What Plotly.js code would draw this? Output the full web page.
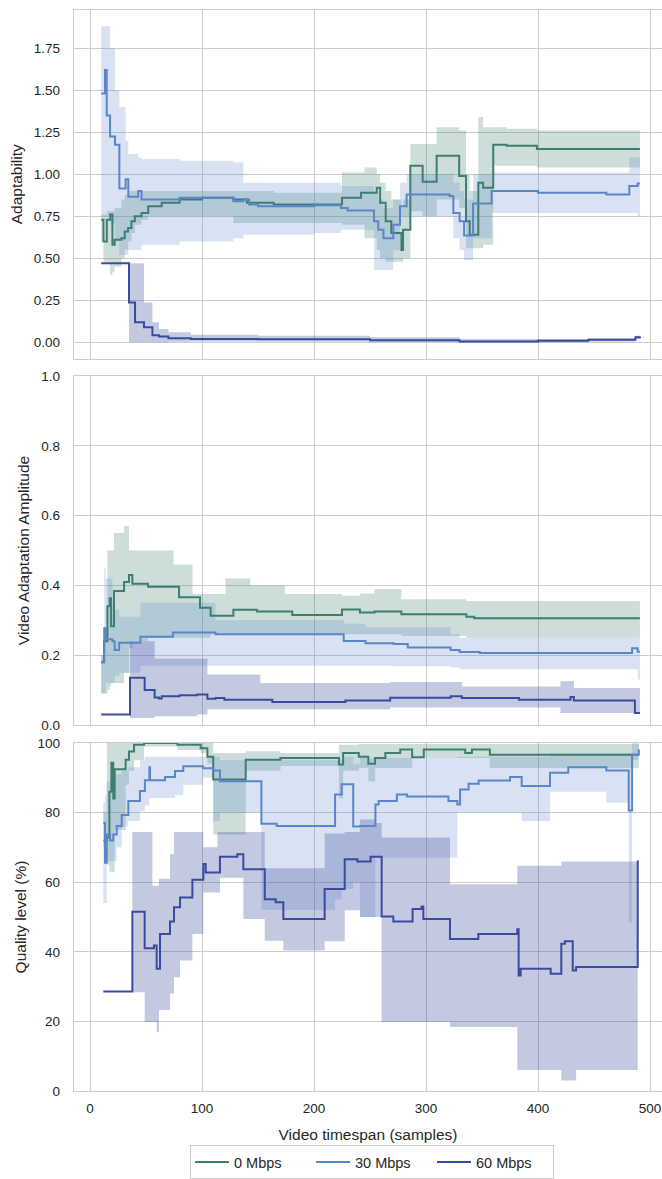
<!DOCTYPE html>
<html>
<head>
<meta charset="utf-8">
<script src="https://cdn.plot.ly/plotly-3.0.1.min.js"></script>
<style>html,body{margin:0;padding:0;background:#fff;overflow:hidden}#chart{width:662px;height:1179px}</style>
</head>
<body>
<div id="chart"></div>
<script>
// ---------- labels ----------
const seriesNames = ["0 Mbps", "30 Mbps", "60 Mbps"];
const panelTitles = ["Adaptability", "Video Adaptation Amplitude", "Quality level (%)"];
const xTitle = "Video timespan (samples)";
const xTickVals = [0, 100, 200, 300, 400, 500];

// ---------- Panel 1: Adaptability ----------
const adapt0_x    = [10,12,15,18,20,22,28,31,34,37,40,46,52,64,80,100,128,140,164,225,242,245,256,259,264,269,278,279.5,286,297,309.5,329.6,335.7,339,346.7,351,360,372,399,491];
const adapt0_mean = [0.73,0.60,0.73,0.76,0.58,0.61,0.62,0.66,0.68,0.72,0.75,0.77,0.81,0.83,0.85,0.86,0.85,0.83,0.82,0.86,0.89,0.89,0.92,0.83,0.72,0.65,0.55,0.67,1.05,0.955,1.11,0.99,0.72,0.64,0.95,0.92,1.176,1.17,1.15,1.15];
const adapt0_lo   = [0.60,0.48,0.48,0.40,0.42,0.45,0.50,0.55,0.60,0.65,0.70,0.73,0.75,0.75,0.75,0.75,0.71,0.71,0.71,0.70,0.70,0.62,0.55,0.50,0.48,0.48,0.48,0.50,0.78,0.75,0.85,0.80,0.56,0.56,0.56,0.58,1.05,1.05,1.04,1.04];
const adapt0_hi   = [0.76,0.76,0.78,0.78,0.78,0.80,0.85,0.88,0.90,0.90,0.90,0.90,0.90,0.90,0.90,0.90,0.90,0.90,0.89,1.01,1.01,1.04,1.00,0.95,0.90,0.85,0.80,0.85,1.18,1.18,1.28,1.26,1.00,0.90,1.34,1.28,1.28,1.27,1.26,1.26];

const adapt30_x    = [10,13.4,14.9,17.9,22.3,26.2,31.8,34.2,43,46,60,80,128,137,142,150,200,224,230,253.6,257.4,262,270.8,276.8,282.7,321,324.4,330,334,342,358.6,400,461,481.5,489,491];
const adapt30_mean = [1.48,1.62,1.35,1.225,1.176,0.915,0.97,0.866,0.90,0.85,0.85,0.86,0.84,0.85,0.82,0.81,0.815,0.80,0.785,0.72,0.67,0.62,0.70,0.81,0.88,0.87,0.77,0.72,0.635,0.826,0.90,0.89,0.88,0.93,0.945,0.945];
const adapt30_lo   = [0.75,0.75,0.75,0.70,0.60,0.52,0.52,0.55,0.55,0.58,0.58,0.60,0.62,0.64,0.64,0.64,0.65,0.67,0.67,0.43,0.43,0.43,0.55,0.75,0.75,0.75,0.62,0.55,0.49,0.62,0.77,0.77,0.77,0.77,0.75,0.75];
const adapt30_hi   = [1.88,1.88,1.88,1.75,1.50,1.40,1.20,1.12,1.10,1.09,1.09,1.08,1.07,0.95,0.95,0.95,0.95,0.93,0.93,0.90,0.85,0.80,0.85,0.95,1.00,1.00,0.95,0.90,0.85,1.00,1.01,1.01,1.01,1.10,1.10,1.10];

const adapt60_x    = [10,34.8,40.2,48.2,55.7,61.6,70,90,150,250,330,400,445,487,491];
const adapt60_mean = [0.47,0.237,0.12,0.09,0.043,0.035,0.025,0.02,0.018,0.012,0.005,0.01,0.015,0.03,0.035];
const adapt60_lo   = [0.47,0.0,0.0,0.0,0.0,0.0,0.003,0.005,0.005,0.002,0.0,0.0,0.005,0.02,0.03];
const adapt60_hi   = [0.47,0.47,0.47,0.237,0.12,0.08,0.06,0.045,0.04,0.03,0.02,0.02,0.025,0.04,0.04];

// ---------- Panel 2: Video Adaptation Amplitude ----------
const amp0_x    = [10,12.5,15.5,17.6,18.8,21.4,30.4,34.8,37.8,51.8,74.6,79.5,91.5,98.2,107.7,121,128,143,149,174,180.6,225,241,254,278,336,343,491];
const amp0_mean = [0.18,0.24,0.34,0.363,0.283,0.384,0.41,0.43,0.405,0.396,0.396,0.366,0.366,0.336,0.313,0.313,0.33,0.33,0.325,0.325,0.315,0.331,0.322,0.325,0.317,0.31,0.306,0.306];
const amp0_lo   = [0.09,0.09,0.10,0.11,0.12,0.12,0.15,0.22,0.24,0.25,0.25,0.25,0.25,0.25,0.26,0.26,0.26,0.26,0.26,0.26,0.26,0.26,0.26,0.26,0.255,0.25,0.25,0.25];
const amp0_hi   = [0.20,0.28,0.50,0.50,0.50,0.55,0.57,0.50,0.50,0.50,0.46,0.46,0.375,0.375,0.375,0.42,0.42,0.40,0.40,0.375,0.375,0.37,0.377,0.39,0.36,0.355,0.355,0.355];

const amp30_x    = [10,12.7,14,20,22,26,45,58,74,112,226.5,246,271,283.7,322,330,348,482,484,489,491];
const amp30_mean = [0.18,0.277,0.246,0.24,0.215,0.236,0.253,0.253,0.265,0.26,0.241,0.234,0.232,0.222,0.215,0.209,0.206,0.206,0.22,0.21,0.21];
const amp30_lo   = [0.09,0.09,0.12,0.12,0.14,0.15,0.17,0.17,0.17,0.17,0.17,0.17,0.168,0.168,0.165,0.16,0.16,0.16,0.16,0.13,0.13];
const amp30_hi   = [0.20,0.45,0.42,0.35,0.33,0.31,0.35,0.35,0.35,0.30,0.29,0.28,0.28,0.28,0.26,0.25,0.25,0.25,0.25,0.25,0.25];

const amp60_x    = [10,35.7,48.8,57.7,61.6,64,80,95.8,104.8,112,120,152,162.8,228,268,322,332,383,420,429,432,486.5,491];
const amp60_mean = [0.03,0.135,0.10,0.079,0.076,0.082,0.085,0.087,0.075,0.077,0.072,0.072,0.066,0.07,0.078,0.082,0.077,0.072,0.072,0.08,0.07,0.034,0.034];
const amp60_lo   = [0.03,0.02,0.02,0.025,0.025,0.025,0.025,0.03,0.045,0.045,0.045,0.045,0.045,0.045,0.05,0.05,0.05,0.05,0.034,0.034,0.034,0.034,0.034];
const amp60_hi   = [0.03,0.24,0.24,0.19,0.19,0.19,0.19,0.19,0.145,0.145,0.145,0.12,0.12,0.12,0.123,0.123,0.11,0.11,0.125,0.125,0.106,0.106,0.034];

// ---------- Panel 3: Quality level (%) ----------
const qual0_x    = [12,15,17.3,19.1,20.8,22,31.8,34.8,39.3,48.2,78,98.8,104.8,110,137.5,139,170,222.3,226,240,248.5,254.5,263.7,277,287.6,298,335,341,357,490];
const qual0_mean = [72,72.8,86,94.3,84,92.4,95.2,97.5,99.5,100,99.5,98.5,96,89.5,89.5,95.2,95.7,93.8,97.1,96,94,95.7,97.1,98.1,95.9,98.1,97.1,98.1,96.6,96.6];
const qual0_lo   = [70,65,63,63,63,75,88,92,95,99,98,97,94,73.7,73.7,92,93.4,84,92,92.8,89,92.8,92.8,92.8,95.7,95.7,95.7,95.7,92.8,92.8];
const qual0_hi   = [80,100,100,100,100,100,100,100,100,100,100,100,100,97.1,97.1,97.6,97.1,99.5,99.5,99.7,99.7,99.7,99.7,99.7,99.7,99.7,99.7,99.7,99.7,99.7];

const qual30_x    = [11.9,13.4,14.9,17.9,20.8,23.8,28.3,34.2,44.6,49,53,53.6,67,75.9,83.3,101,110,116,153,166.7,218.8,224.7,235,241,254.8,257.7,274,283,320,328,330.4,338,347,375,385.4,410.7,427,461,481,484,490];
const qual30_mean = [77,65.6,73.7,72,73.7,76.1,79.3,83.3,86.2,89.3,93,89.3,90.2,91.9,93.3,92.7,92.1,89,76.8,76.1,85.2,88.1,76,76.1,82.3,83.3,85.2,84.6,83.3,82.3,86.6,88.3,89.2,90.2,87.6,91.4,93.0,92.1,80.6,96.6,98.1];
const qual30_lo   = [54,54,66,66,66,70,76,77.6,80.4,82,84.2,84.2,84.2,85,88,90,77.6,80,52,52,55,58,60,50,67,67,67,67,67,80,80,80,80,80,77.6,86,86,82.8,48.5,95,95];
const qual30_hi   = [83,85,89,90,91,91,92,93,95,96,96,96,96,96,96,96,96,95,95,95,95,96,94,95.7,95.7,95.7,95.7,95.7,95.7,96,96,96,96,96,96,97,97,97,97,100,100];

const qual60_x    = [11.9,37.8,48.8,55.7,57.1,59.5,61.6,62.5,71.4,75,80.4,91.4,101.2,103.3,113.7,116,131.5,136.9,156,165.8,172.6,209.5,227.4,238.7,241,250.5,254.5,260.4,270.8,288,296,297.6,321.4,346.7,381.5,382.7,384.5,411.3,420.8,424,431,434,489,490];
const qual60_mean = [28.6,51.5,41.0,41.0,41.8,35.1,35.1,45.1,48.7,52.8,55.6,60.7,65.2,62.8,62.8,67.3,68.0,63.7,55.1,54.2,49.4,58.0,66.6,65.9,65.9,67.3,67.3,50.1,48.7,52.3,53,49.4,43.7,45.1,46.5,33.2,35.1,33.7,42.3,43,34.6,35.6,65.9,65.9];
const qual60_lo   = [28.6,28.4,19.8,19.8,19.8,17,23.3,23.3,28,32.7,37.5,45.1,57,57,57,61.3,61.3,49.4,43.2,43.2,40.4,43,51.9,51.9,50,50,50,19.8,19.8,19.8,19.8,19.8,18.4,18.4,6,6,6,6,3,3,3,6,65.9,65.9];
const qual60_hi   = [28.6,74.4,74.4,59,59,59,61,61,68,74.4,74.4,74.4,70,70,74.4,74.4,74.4,74.4,64,64,64,74,74.4,74.4,78,78,77,72.8,72.8,72.8,72.8,72.8,59.4,59.4,64.7,64.7,64.7,64.7,65.9,65.9,65.9,65.9,65.9,65.9];

// ---------- styling ----------
const colors = ["#3e7e71", "#5b85c9", "#3a4b9f"];
const bandAlpha = [0.26, 0.24, 0.3];
function rgba(hex, a) {
  const n = parseInt(hex.slice(1), 16);
  return `rgba(${(n >> 16) & 255},${(n >> 8) & 255},${n & 255},${a})`;
}

const panels = [
  { xa: "x",  ya: "y",  series: [[adapt0_x, adapt0_mean, adapt0_lo, adapt0_hi], [adapt30_x, adapt30_mean, adapt30_lo, adapt30_hi], [adapt60_x, adapt60_mean, adapt60_lo, adapt60_hi]] },
  { xa: "x2", ya: "y2", series: [[amp0_x, amp0_mean, amp0_lo, amp0_hi], [amp30_x, amp30_mean, amp30_lo, amp30_hi], [amp60_x, amp60_mean, amp60_lo, amp60_hi]] },
  { xa: "x3", ya: "y3", series: [[qual0_x, qual0_mean, qual0_lo, qual0_hi], [qual30_x, qual30_mean, qual30_lo, qual30_hi], [qual60_x, qual60_mean, qual60_lo, qual60_hi]] }
];

const traces = [];
panels.forEach(p => {
  p.series.forEach((s, si) => {
    traces.push({ x: s[0], y: s[2], xaxis: p.xa, yaxis: p.ya, type: "scatter", mode: "lines",
      line: { width: 0, shape: "hv" }, hoverinfo: "skip", showlegend: false });
    traces.push({ x: s[0], y: s[3], xaxis: p.xa, yaxis: p.ya, type: "scatter", mode: "lines",
      line: { width: 0, shape: "hv" }, fill: "tonexty", fillcolor: rgba(colors[si], bandAlpha[si]),
      hoverinfo: "skip", showlegend: false });
  });
});
panels.forEach((p, pi) => {
  p.series.forEach((s, si) => {
    traces.push({ x: s[0], y: s[1], xaxis: p.xa, yaxis: p.ya, type: "scatter", mode: "lines",
      name: seriesNames[si], legendgroup: seriesNames[si], showlegend: pi === 0,
      line: { width: 2, shape: "hv", color: colors[si] } });
  });
});

const gridCol = "#cccccc";
const baseAxis = { showline: true, linecolor: gridCol, linewidth: 1.25, showgrid: true, gridcolor: gridCol,
  gridwidth: 1, zeroline: false, ticks: "", tickfont: { size: 13.5 } };
const xRange = [-14.3, 510.7];

function xAxis(anchor, showLabels) {
  return Object.assign({}, baseAxis, { anchor: anchor, domain: [0, 1], range: xRange, tickvals: xTickVals,
    showticklabels: showLabels, mirror: true, ticklabelstandoff: 5 });
}

const layout = {
  width: 662, height: 1179,
  margin: { l: 74, r: 0, t: 10, b: 85 },
  paper_bgcolor: "#ffffff", plot_bgcolor: "#ffffff",
  font: { family: "Liberation Sans, Arial, sans-serif", color: "#262626", size: 13.5 },
  showlegend: true,
  xaxis: xAxis("y", false),
  xaxis2: xAxis("y2", false),
  xaxis3: Object.assign(xAxis("y3", true), { title: { text: xTitle, font: { size: 15.5 }, standoff: 13 } }),
  yaxis: Object.assign({}, baseAxis, { anchor: "x", domain: [0.6776, 1], range: [-0.096, 1.977],
    tick0: 0, dtick: 0.25, tickformat: ".2f", ticklabelstandoff: 10,
    title: { text: panelTitles[0], font: { size: 15.5 }, standoff: 7 } }),
  yaxis2: Object.assign({}, baseAxis, { anchor: "x2", domain: [0.3386, 0.6614], range: [0, 1],
    tick0: 0, dtick: 0.2, tickformat: ".1f", ticklabelstandoff: 10,
    title: { text: panelTitles[1], font: { size: 15.5 }, standoff: 7 } }),
  yaxis3: Object.assign({}, baseAxis, { anchor: "x3", domain: [0, 0.322], range: [0, 100],
    tick0: 0, dtick: 20, ticklabelstandoff: 10,
    title: { text: panelTitles[2], font: { size: 15.5 }, standoff: 7 } }),
  legend: { orientation: "h", x: 0.5068, xanchor: "center", y: -0.05, yanchor: "top",
    bordercolor: gridCol, borderwidth: 1, font: { size: 14.5 }, entrywidth: 72, itemwidth: 34,
    bgcolor: "#ffffff" }
};

Plotly.newPlot("chart", traces, layout, { displayModeBar: false, staticPlot: true });
</script>
</body>
</html>
